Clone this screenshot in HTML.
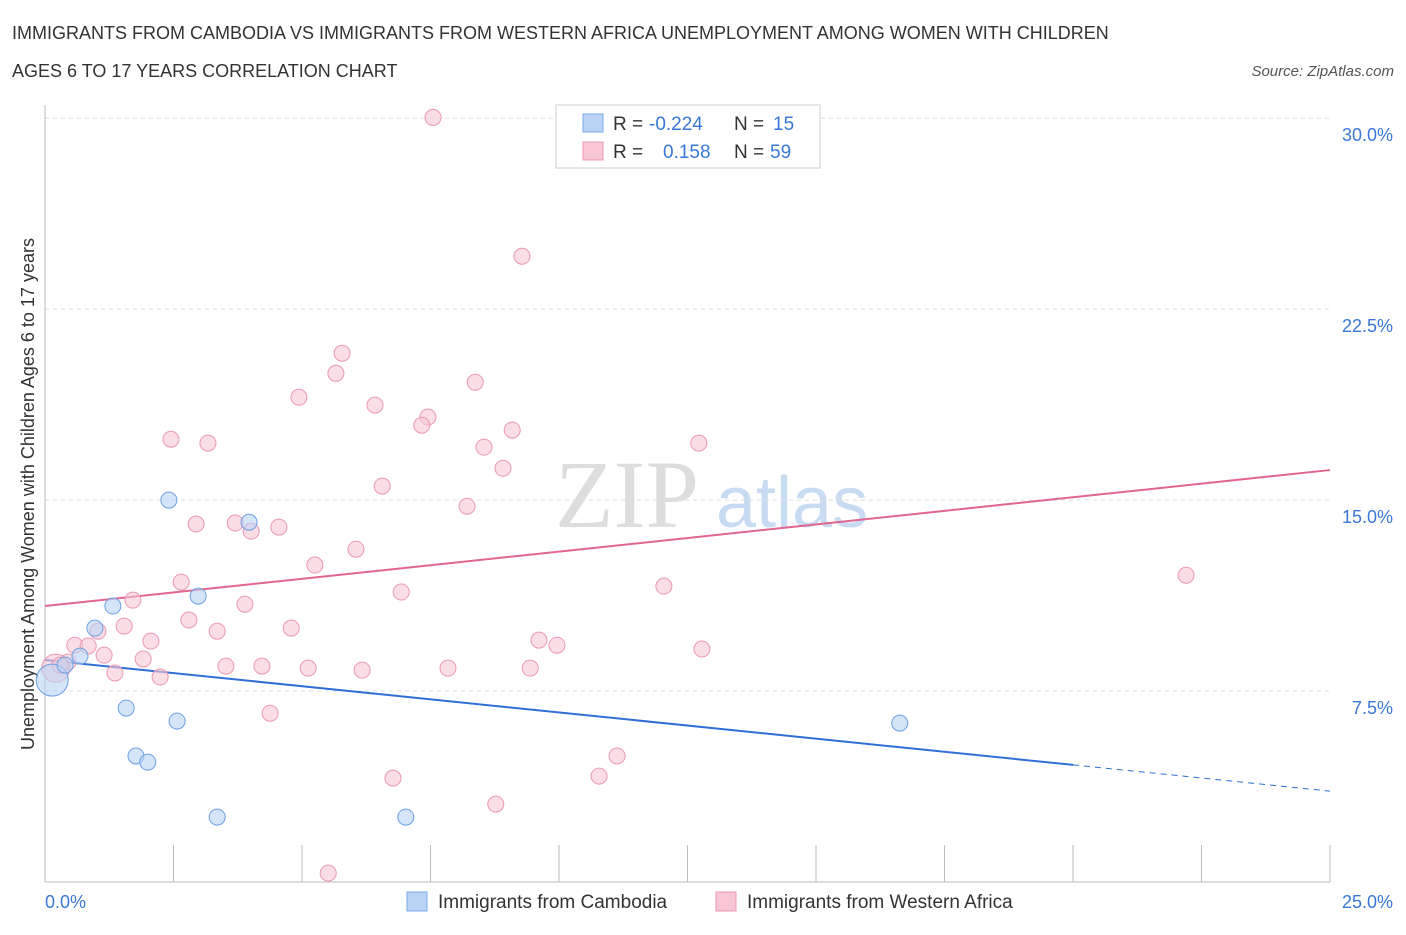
<!DOCTYPE html>
<html><head><meta charset="utf-8"><style>
body{margin:0;background:#fff;font-family:"Liberation Sans",sans-serif}
</style></head><body>
<svg width="1406" height="930" xmlns="http://www.w3.org/2000/svg" font-family="Liberation Sans, sans-serif">
<text x="12" y="39" font-size="18" fill="#333">IMMIGRANTS FROM CAMBODIA VS IMMIGRANTS FROM WESTERN AFRICA UNEMPLOYMENT AMONG WOMEN WITH CHILDREN</text>
<text x="12" y="77" font-size="18" fill="#333">AGES 6 TO 17 YEARS CORRELATION CHART</text>
<text x="1394" y="76" font-size="15" fill="#555" font-style="italic" text-anchor="end">Source: ZipAtlas.com</text>
<text x="555" y="527" font-size="96" fill="#ddd" font-family="Liberation Serif, serif">ZIP</text>
<text x="716" y="527" font-size="72" fill="#c9dbf2">atlas</text>
<g id="grid"></g>
<g id="axes"></g>
<text transform="translate(34,494) rotate(-90)" font-size="18" fill="#333" text-anchor="middle">Unemployment Among Women with Children Ages 6 to 17 years</text>
<g id="lines"></g>
<g id="points"></g>
<g>
<rect x="556" y="105" width="264" height="63" fill="#fff" stroke="#ccc"/>
<rect x="583" y="114" width="20" height="18" fill="#b9d3f5" stroke="#7aa9e8"/>
<rect x="583" y="142" width="20" height="18" fill="#f9c6d6" stroke="#eb98b3"/>
<text x="613" y="130" font-size="19" fill="#333">R =</text>
<text x="649" y="130" font-size="19" fill="#3a78d6">-0.224</text>
<text x="734" y="130" font-size="19" fill="#333">N =</text>
<text x="773" y="130" font-size="19" fill="#3a78d6">15</text>
<text x="613" y="158" font-size="19" fill="#333">R =</text>
<text x="663" y="158" font-size="19" fill="#3a78d6">0.158</text>
<text x="734" y="158" font-size="19" fill="#333">N =</text>
<text x="770" y="158" font-size="19" fill="#3a78d6">59</text>
</g>
<g>
<rect x="407" y="892" width="20" height="19" fill="#b9d3f5" stroke="#7aa9e8"/>
<text x="438" y="908" font-size="19" fill="#333">Immigrants from Cambodia</text>
<rect x="716" y="892" width="20" height="19" fill="#f9c6d6" stroke="#eb98b3"/>
<text x="747" y="908" font-size="19" fill="#333">Immigrants from Western Africa</text>
</g>
</svg>
<script>
const yTicks=[7.5,15,22.5,30];
const yTickLabels=["7.5%","15.0%","22.5%","30.0%"];
const xTickLabels=["0.0%","25.0%"];
const camX=[0.14,0.39,0.68,0.97,1.32,1.58,1.77,2.0,2.41,2.57,2.98,3.35,3.97,7.02,16.63];
const camY=[7.93,8.52,8.87,9.97,10.84,6.83,4.95,4.71,15.0,6.32,11.23,2.55,14.13,2.55,6.24];
const wafX=[7.55,9.28,5.78,5.66,8.37,4.94,6.42,7.45,7.33,2.45,3.17,9.09,8.54,12.72,8.91,6.56,8.21,2.94,3.70,4.01,4.55,6.05,5.25,2.65,12.04,22.2,6.93,1.71,3.89,2.80,1.54,1.03,3.35,4.79,2.06,9.61,9.96,0.58,0.84,12.78,1.15,1.91,0.45,3.52,4.22,5.12,6.17,7.84,9.44,1.36,2.24,0.21,0.29,4.38,11.13,6.77,10.78,8.77,5.51];
const wafY=[30.03,24.58,20.77,19.98,19.63,19.04,18.73,18.26,17.94,17.39,17.24,17.75,17.08,17.24,16.25,15.55,14.76,14.06,14.1,13.78,13.94,13.07,12.45,11.78,11.62,12.05,11.39,11.07,10.91,10.29,10.05,9.85,9.85,9.97,9.46,9.5,9.3,9.3,9.27,9.15,8.91,8.76,8.64,8.48,8.48,8.4,8.32,8.4,8.4,8.21,8.05,8.4,8.52,6.63,4.95,4.08,4.16,3.06,0.35];
const camTrend=[8.72,3.57];
const wafTrend=[10.84,16.18];
const NS="http://www.w3.org/2000/svg";
const X=v=>45+v*1285/25, Y=v=>882-v*763.8/30;
function mk(tag,attrs,parent){const e=document.createElementNS(NS,tag);for(const k in attrs)e.setAttribute(k,attrs[k]);document.getElementById(parent).appendChild(e);return e;}
yTicks.forEach((t,i)=>{
 const l=mk('line',{x1:45,x2:1330,y1:Y(t),y2:Y(t),stroke:'#ddd','stroke-dasharray':'4,4'},'grid');
 
 
 const tx=mk('text',{x:1393,y:Y(t)+23,'font-size':18,fill:'#3a78d6','text-anchor':'end'},'grid');tx.textContent=yTickLabels[i];
 
 
});
mk('line',{x1:45,x2:45,y1:105,y2:882,stroke:'#bbb'},'axes');
mk('line',{x1:45,x2:1330,y1:882,y2:882,stroke:'#bbb'},'axes');
for(let i=0;i<=10;i++){const t=mk('line',{x1:X(i*2.5),x2:X(i*2.5),y1:845,y2:882,stroke:'#bbb'},'axes');
 
 }
[[0,'start',45],[1,'end',1393]].forEach(([i,a,x])=>{const t=mk('text',{x:x,y:908,'font-size':18,fill:'#3a78d6','text-anchor':a},'axes');t.textContent=xTickLabels[i];
 
 });
const xm=20.0;
const cy=v=>camTrend[0]+(camTrend[1]-camTrend[0])*v/25;
let l=mk('line',{x1:X(0),y1:Y(cy(0)),x2:X(xm),y2:Y(cy(xm)),stroke:'#2f6fd6','stroke-width':2},'lines');


l=mk('line',{x1:X(xm),y1:Y(cy(xm)),x2:X(25),y2:Y(cy(25)),stroke:'#2f6fd6','stroke-width':1,'stroke-dasharray':'6,5'},'lines');


l=mk('line',{x1:X(0),y1:Y(wafTrend[0]),x2:X(25),y2:Y(wafTrend[1]),stroke:'#e0668f','stroke-width':2},'lines');


wafX.forEach((x,i)=>{const c=mk('circle',{cx:X(x),cy:Y(wafY[i]),r:i==51?14:8,fill:'#f9c6d6','fill-opacity':0.6,stroke:'#eb98b3'},'points');
 
 });
camX.forEach((x,i)=>{const c=mk('circle',{cx:X(x),cy:Y(camY[i]),r:i==0?16:8,fill:'#b9d3f5','fill-opacity':0.6,stroke:'#6d9fe3'},'points');
 
 });
</script>
</body></html>
